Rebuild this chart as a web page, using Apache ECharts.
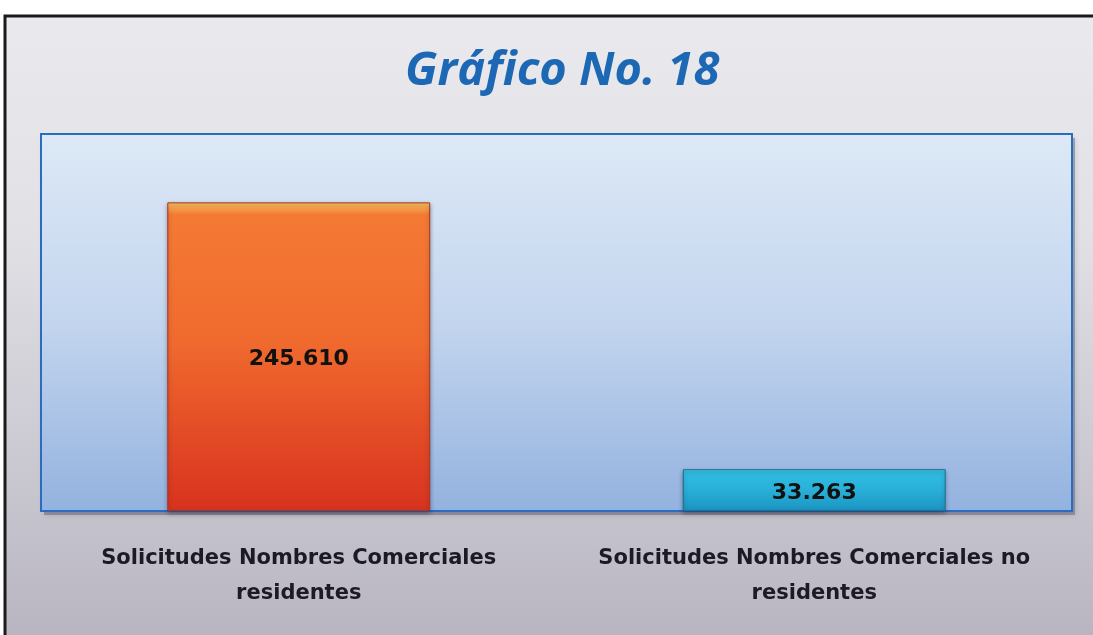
<!DOCTYPE html>
<html>
<head>
<meta charset="utf-8">
<script src="https://cdn.jsdelivr.net/npm/echarts@6/dist/echarts.min.js"></script>
<style>
  html, body { margin: 0; padding: 0; background: #ffffff; }
  #chart { width: 1093px; height: 635px; }
</style>
</head>
<body>
<div id="chart"></div>
<script>
// data
const categories = [
  'Solicitudes Nombres Comerciales\nresidentes',
  'Solicitudes Nombres Comerciales no\nresidentes'
]
const solicitudes = [245610, 33263]
const barTop = ['#f47a34', '#31bde0']
const barBottom = ['#d8321f', '#1b94c2']

function fmt(v) {
  return String(v).replace(/\B(?=(\d{3})+(?!\d))/g, '.')
}

const chart = echarts.init(document.getElementById('chart'))

chart.setOption({
  animation: false,
  backgroundColor: '#ffffff',
  graphic: [
    {
      type: 'rect',
      z: -10,
      shape: { x: 5, y: 16, width: 1100, height: 640 },
      style: {
        fill: new echarts.graphic.LinearGradient(0, 0, 0, 1, [
          { offset: 0, color: '#eae9ed' },
          { offset: 0.35, color: '#e1e0e5' },
          { offset: 1, color: '#b6b3bf' }
        ]),
        stroke: '#1a1a1a',
        lineWidth: 3
      }
    },
    {
      type: 'rect',
      z: -5,
      shape: { x: 44, y: 138, width: 1031, height: 377 },
      style: { fill: 'rgba(60,60,90,0.35)', shadowBlur: 6, shadowColor: 'rgba(40,40,70,0.5)' }
    }
  ],
  title: {
    text: 'Gráfico No. 18',
    left: 400,
    top: 43,
    textStyle: {
      color: '#1d68b5',
      fontFamily: 'Open Sans',
      fontStyle: 'italic',
      fontWeight: 'bold',
      fontSize: 47
    }
  },
  grid: {
    left: 41,
    right: 21,
    top: 134,
    bottom: 124,
    show: true,
    borderColor: '#2a6cc0',
    borderWidth: 2,
    backgroundColor: new echarts.graphic.LinearGradient(0, 0, 0, 1, [
      { offset: 0, color: '#dde9f6' },
      { offset: 0.5, color: '#c3d5ee' },
      { offset: 1, color: '#93b2df' }
    ])
  },
  xAxis: {
    type: 'category',
    data: categories,
    axisLine: { show: false },
    axisTick: { show: false },
    axisLabel: {
      margin: 30,
      color: '#1c1a26',
      fontFamily: 'DejaVu Sans',
      fontWeight: 'bold',
      fontSize: 21,
      lineHeight: 35,
      interval: 0
    }
  },
  yAxis: {
    type: 'value',
    min: 0,
    max: 300000,
    show: false,
    splitLine: { show: false }
  },
  series: [
    {
      type: 'bar',
      barWidth: '51%',
      data: solicitudes.map((v, i) => ({
        value: v,
        itemStyle: {
          color: new echarts.graphic.LinearGradient(0, 0, 0, 1, [
            { offset: 0, color: i === 0 ? '#f9c060' : '#7fe0f4' },
            { offset: 0.04, color: barTop[i] },
            { offset: 0.45, color: i === 0 ? '#f06a2e' : '#2ab2da' },
            { offset: 1, color: barBottom[i] }
          ]),
          borderColor: i === 0 ? '#a8351c' : '#17708f',
          borderWidth: 1,
          shadowBlur: 4,
          shadowColor: 'rgba(30,30,50,0.4)',
          shadowOffsetY: 2
        }
      })),
      label: {
        show: true,
        position: 'inside',
        offset: [0, 3],
        color: '#111111',
        fontFamily: 'DejaVu Sans',
        fontWeight: 'bold',
        fontSize: 22,
        formatter: p => fmt(p.value)
      }
    }
  ]
})
</script>
</body>
</html>
